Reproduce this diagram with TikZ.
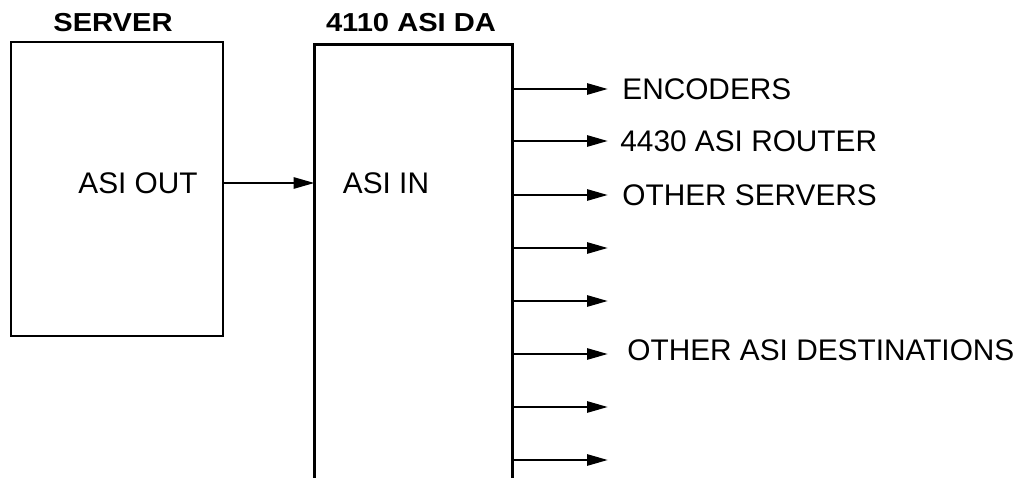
\documentclass[tikz,border=0pt]{standalone}
\usepackage{fontspec}
\setmainfont{Liberation Sans}
\newfontfamily\tagfont{Liberation Sans}[FakeStretch=1.12]
\usetikzlibrary{arrows.meta,positioning}
\begin{document}
\begin{tikzpicture}[x=1pt, y=-1pt, line width=2.8pt,
  tag/.style={font=\tagfont\bfseries\fontsize{26}{30}\selectfont, inner sep=0pt},
  lbl/.style={font=\fontsize{29.8}{34}\selectfont, inner sep=0pt},
  feed/.style={-{Triangle[length=21pt,width=11pt]}}]
  \useasboundingbox (0,0) rectangle (1023,478);
  % server on the left, the DA runs off the bottom of the page
  \node[draw, minimum width=212pt, minimum height=294pt, inner sep=0pt] (server) at (117,189) {};
  \node[minimum width=195pt, minimum height=454pt, inner sep=0pt] (da) at (413.5,273) {};
  \draw (da.south west) -- (da.north west) -- (da.north east) -- (da.south east);
  \node[tag] (servertag) at (113,23) {SERVER};
  \node[tag] (datag) at (411,23) {4110 ASI DA};
  \node[lbl] (out) at (138,183) {ASI OUT};
  \node[lbl] (in) at (386,183) {ASI IN};
  \draw[feed] (server.east |- out) -- (da.west |- out);
  % eight outputs
  \foreach \i/\y in {1/89, 2/141, 3/195, 4/248, 5/301, 6/354, 7/407, 8/460} {
    \coordinate (tip\i) at (608,\y);
    \draw[feed] (da.east |- tip\i) -- (tip\i);
  }
  \node[lbl, right=13pt of tip1] (enc) {ENCODERS};
  \node[lbl, right=11pt of tip2] (router) {4430 ASI ROUTER};
  \node[lbl, right=13pt of tip3] (servers) {OTHER SERVERS};
  \node[lbl, right=18pt of tip6, yshift=4pt] (dest) {OTHER ASI DESTINATIONS};
\end{tikzpicture}
\end{document}
